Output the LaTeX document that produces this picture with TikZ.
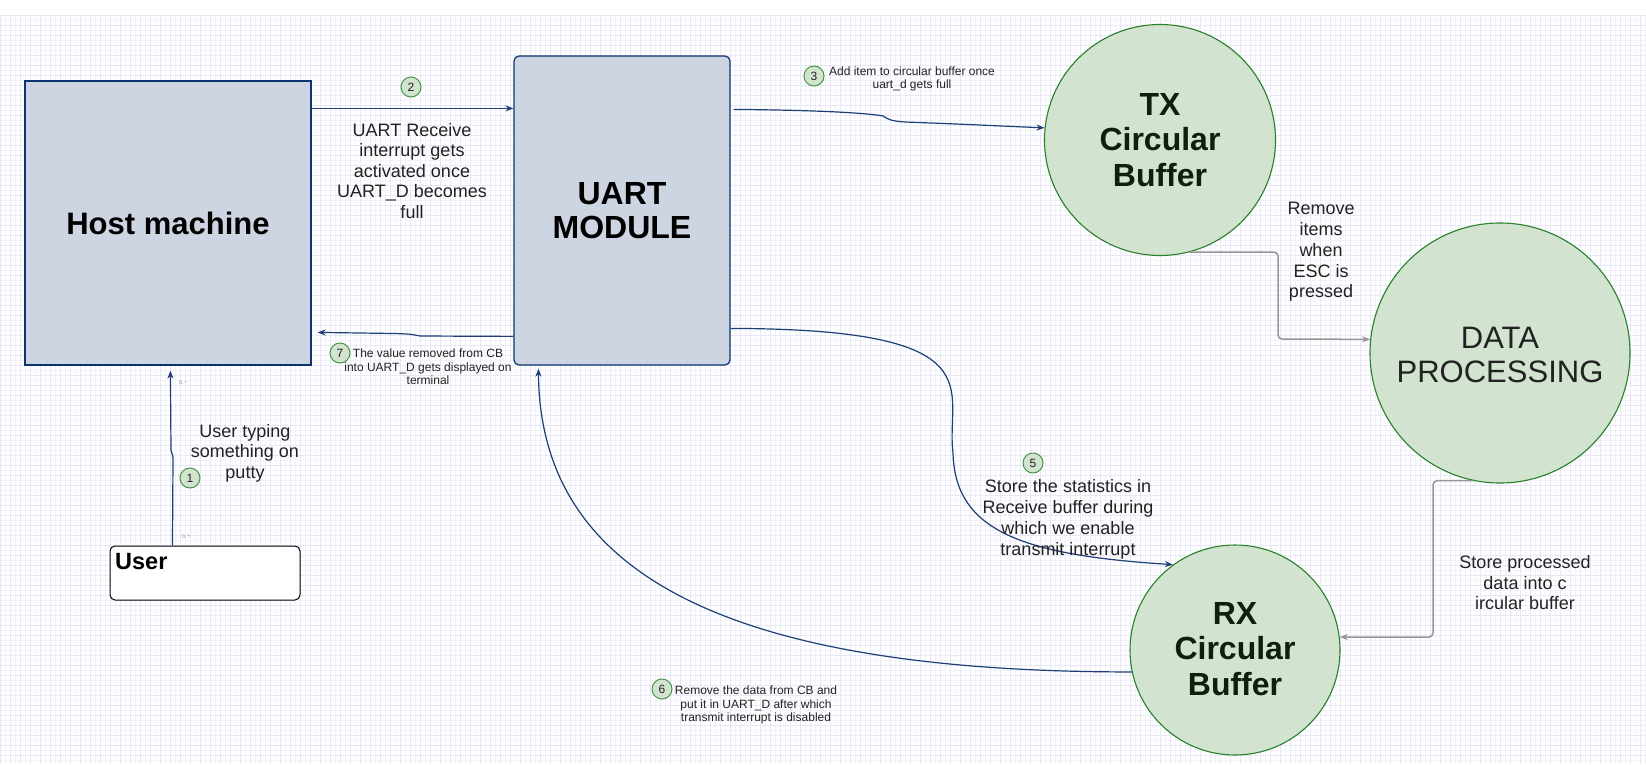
\documentclass[tikz,border=0pt]{standalone}
\usepackage{fontspec}
\setmainfont{Liberation Sans}
\usetikzlibrary{arrows.meta,calc}
\definecolor{rectfill}{RGB}{205,213,226}
\definecolor{rectdraw}{RGB}{12,52,112}
\definecolor{conn}{RGB}{30,62,118}
\definecolor{cfill}{RGB}{210,228,208}
\definecolor{cdraw}{RGB}{40,128,40}
\definecolor{numdraw}{RGB}{70,150,70}
\definecolor{gridmaj}{RGB}{231,231,246}
\definecolor{gridmin}{RGB}{243,243,252}
\definecolor{txt}{RGB}{34,34,34}
\definecolor{cirtxt}{RGB}{12,32,12}
\definecolor{grayconn}{RGB}{150,150,150}
\tikzset{
  boxshape/.style={draw=rectdraw, fill=rectfill, line width=1.2pt, inner sep=0pt},
  bigcirc/.style={circle, draw=cdraw, fill=cfill, line width=1.1pt, inner sep=0pt},
  numcirc/.style={circle, draw=numdraw, fill=cfill, line width=1pt, minimum size=20pt, inner sep=0pt, font=\fontsize{12}{12}\selectfont, text=txt},
  midtext/.style={align=center, inner sep=0pt, text=txt, font=\fontsize{18}{20.5}\selectfont},
  smalltext/.style={align=center, inner sep=0pt, text=txt, font=\fontsize{12}{13.5}\selectfont},
  tinytext/.style={inner sep=0pt, anchor=west, text=gray, font=\fontsize{5}{5}\selectfont},
  bigbold/.style={align=center, inner sep=0pt, text=cirtxt, font=\fontsize{32}{35.5}\selectfont\bfseries},
  conn/.style={draw=conn, line width=1.2pt, -{Stealth[length=8pt,width=6pt]}},
  grayc/.style={draw=grayconn, line width=1.5pt, rounded corners=4pt, -{Stealth[length=8pt,width=6pt]}}
}
\begin{document}
\begin{tikzpicture}[x=1pt,y=-1pt]
\useasboundingbox (0,0) rectangle (1646,764);
\fill[white] (0,0) rectangle (1646,764);
% grid
\foreach \x in {5,15,...,1645} {\draw[gridmin, line width=0.7pt] (\x,15) -- (\x,764);}
\foreach \y in {20,30,...,760} {\draw[gridmin, line width=0.7pt] (0,\y) -- (1646,\y);}
\foreach \x in {0,10,...,1640} {\draw[gridmaj, line width=0.9pt] (\x,15) -- (\x,764);}
\foreach \y in {15,25,...,764} {\draw[gridmaj, line width=0.9pt] (0,\y) -- (1646,\y);}

% boxes
\node[boxshape, minimum width=286pt, minimum height=284pt, font=\fontsize{31}{33}\selectfont\bfseries] (host) at (168,223) {Host machine};
\node[boxshape, rounded corners=5pt, minimum width=216pt, minimum height=309pt, align=center, font=\fontsize{32}{34}\selectfont\bfseries] (uart) at (622,210.5) {UART\\MODULE};
\node[draw=black, fill=white, line width=1pt, rounded corners=5pt, minimum width=190pt, minimum height=54pt, inner sep=0pt] (user) at (205,573) {};
\node[anchor=west, inner sep=0pt, font=\fontsize{23.5}{24}\selectfont\bfseries] (userlbl) at (115,561.5) {User};

% circles
\node[bigcirc, minimum size=231pt] (tx) at (1160,140) {};
\node[bigcirc, minimum size=260pt] (dp) at (1500,353) {};
\node[bigcirc, minimum size=210pt] (rx) at (1235,650) {};
\node[bigbold] (txlbl) at (1160,140) {TX\\Circular\\Buffer};
\node[align=center, inner sep=0pt, text=txt, font=\fontsize{31}{34.5}\selectfont] (dplbl) at (1500,355) {DATA\\PROCESSING};
\node[bigbold] (rxlbl) at (1235,649) {RX\\Circular\\Buffer};

% coordinates
\coordinate (g1) at (1278,339);
\coordinate (g2) at (1433,637);

% connectors
\draw[conn] ($(host.north east)+(0,28)$) -- ($(uart.north west)+(0,53)$);
\draw[conn] ($(uart.north east)+(3,54)$) .. controls (800,110) and (860,112) .. (883,116)
   .. controls (889,120) and (892,121) .. (905,122) .. controls (960,124) and (1000,126) .. (tx.174);
\draw[conn] ($(uart.north west)+(0,281)$) -- (420,336) .. controls (410,334) .. (395,333.5) -- ($(host.north east)+(6,252)$);
\draw[conn] ($(user.north west)+(63,0)$) -- (173,458) .. controls (173,454) and (171,453) .. (171,450) -- ($(host.south west)+(146,5)$);
\draw[conn] ($(uart.north east)+(0,273)$) .. controls (1000,329) and (945,390) .. (953,453)
   .. controls (955,530) and (1020,555) .. (rx.126);
\draw[conn] (rx.192) .. controls (700,672) and (540,560) .. ($(uart.south west)+(25,3)$);
\draw[grayc] (tx.-75) -| (g1) -- (dp.174);
\draw[grayc] (dp.-102) -| (g2) -- (rx.7);

% numbered markers
\node[numcirc] (n1) at (190,478) {1};
\node[numcirc] (n2) at (411,87) {2};
\node[numcirc] (n3) at (814,76) {3};
\node[numcirc] (n5) at (1033,463) {5};
\node[numcirc] (n6) at (662,689) {6};
\node[numcirc] (n7) at (340,353) {7};

% labels
\node[midtext] (l2) at (412,171) {UART Receive\\interrupt gets\\activated once\\UART\_D becomes\\full};
\node[smalltext, font=\fontsize{12}{12.5}\selectfont] (l3) at (912,79) {Add item to circular buffer once\\uart\_d gets full};
\node[smalltext] (l7) at (428,367) {The value removed from CB\\into UART\_D gets displayed on\\terminal};
\node[midtext] (l1) at (245,453) {User typing\\something on\\putty};
\node[midtext, font=\fontsize{18}{21}\selectfont] (l5) at (1068,519.5) {Store the statistics in\\Receive buffer during\\which we enable\\transmit interrupt};
\node[smalltext] (l6) at (756,705) {Remove the data from CB and\\put it in UART\_D after which\\transmit interrupt is disabled};
\node[midtext, font=\fontsize{18}{20.7}\selectfont] (lrm) at (1321,252) {Remove\\items\\when\\ESC is\\pressed};
\node[midtext] (lsp) at (1525,583) {Store processed\\data into c\\ircular buffer};
\node[tinytext] (m1) at (179,383) {0..*};
\node[tinytext] (m2) at (182,537) {0..*};
\end{tikzpicture}
\end{document}
